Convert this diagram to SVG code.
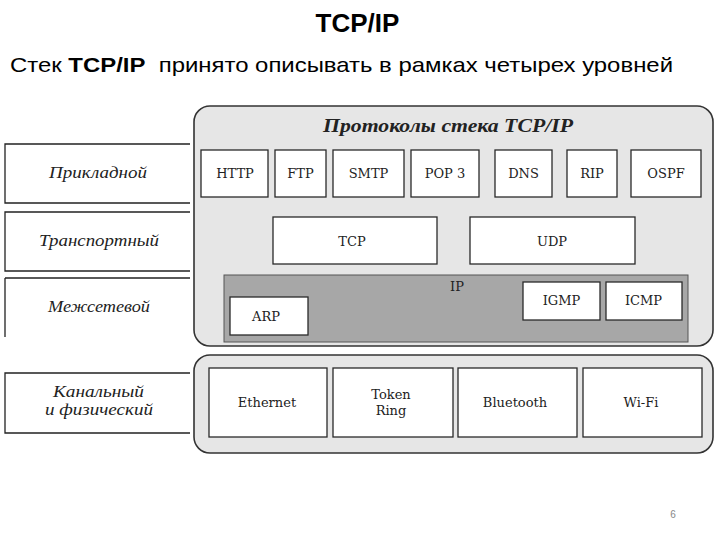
<svg xmlns="http://www.w3.org/2000/svg" width="720" height="540" viewBox="0 0 720 540">
<style>
.box{fill:#fff;stroke:#2a2a2a;stroke-width:1.3}
.cont{fill:#e6e6e6;stroke:#333;stroke-width:1.6}
.lbl{font-family:"DejaVu Serif",serif;font-size:13px;fill:#222;text-anchor:middle}
.lay{font-family:"Liberation Serif",serif;font-style:italic;font-size:17px;fill:#222}
.ln{stroke:#222;stroke-width:1.3;fill:none}
</style>
<rect width="720" height="540" fill="#fff"/>
<text x="357.5" y="32" font-family="Liberation Sans,sans-serif" font-weight="bold" font-size="26" text-anchor="middle" fill="#000">TCP/IP</text>
<text x="10" y="72" xml:space="preserve" font-family="Liberation Sans,sans-serif" font-size="21" fill="#000" textLength="663" lengthAdjust="spacingAndGlyphs">Стек <tspan font-weight="bold">TCP/IP</tspan>  принято описывать в рамках четырех уровней</text>

<g id="layers">
<g id="layer-app"><path class="ln" d="M190,144 H5 V203 H190"/><text class="lay" x="49" y="178" textLength="98" lengthAdjust="spacingAndGlyphs">Прикладной</text></g>
<g id="layer-transport"><path class="ln" d="M190,212 H5 V271 H190"/><text class="lay" x="39" y="246" textLength="120" lengthAdjust="spacingAndGlyphs">Транспортный</text></g>
<g id="layer-internet"><path class="ln" d="M190,278 H5 M5,278 V337"/><text class="lay" x="48" y="312" textLength="102" lengthAdjust="spacingAndGlyphs">Межсетевой</text></g>
<g id="layer-link"><path class="ln" d="M190,373 H5 V433 H190"/><text class="lay" x="53" y="397" font-size="14" textLength="91" lengthAdjust="spacingAndGlyphs">Канальный</text><text class="lay" x="45" y="415" font-size="14" textLength="108" lengthAdjust="spacingAndGlyphs">и физический</text></g>
</g>

<g id="stack">
<rect class="cont" x="194" y="106" width="519" height="240" rx="16"/>
<text x="323" y="132" font-family="Liberation Serif,serif" font-style="italic" font-weight="bold" font-size="18" fill="#222" textLength="250" lengthAdjust="spacingAndGlyphs">Протоколы стека TCP/IP</text>
</g>
<g id="link-container"><rect class="cont" x="194" y="355" width="519" height="98" rx="16"/></g>

<g id="http"><rect class="box" x="201" y="150" width="67" height="47"/><text class="lbl" x="235" y="178">HTTP</text></g>
<g id="ftp"><rect class="box" x="275" y="150" width="51" height="47"/><text class="lbl" x="300.5" y="178">FTP</text></g>
<g id="smtp"><rect class="box" x="333" y="150" width="71" height="47"/><text class="lbl" x="368.5" y="178">SMTP</text></g>
<g id="pop3"><rect class="box" x="411" y="150" width="68" height="47"/><text class="lbl" x="445" y="178">POP 3</text></g>
<g id="dns"><rect class="box" x="495" y="150" width="57" height="47"/><text class="lbl" x="523.5" y="178">DNS</text></g>
<g id="rip"><rect class="box" x="567" y="150" width="50" height="47"/><text class="lbl" x="592" y="178">RIP</text></g>
<g id="ospf"><rect class="box" x="631" y="150" width="70" height="47"/><text class="lbl" x="666" y="178">OSPF</text></g>

<g id="tcp"><rect class="box" x="273" y="217" width="164" height="47"/><text class="lbl" x="352" y="246">TCP</text></g>
<g id="udp"><rect class="box" x="470" y="217" width="165" height="47"/><text class="lbl" x="552" y="246">UDP</text></g>

<g id="ip"><rect x="224" y="275" width="464" height="67" fill="#a7a7a7" stroke="#555" stroke-width="1"/><text class="lbl" x="457" y="291" font-size="15">IP</text></g>
<g id="arp"><rect class="box" x="230" y="297" width="78" height="38"/><text class="lbl" x="266" y="321" font-size="15.5">ARP</text></g>
<g id="igmp"><rect class="box" x="523" y="282" width="77" height="38"/><text class="lbl" x="561.5" y="305">IGMP</text></g>
<g id="icmp"><rect class="box" x="606" y="282" width="76" height="38"/><text class="lbl" x="643.5" y="305">ICMP</text></g>

<g id="ethernet"><rect class="box" x="209" y="368" width="118" height="69"/><text class="lbl" x="267" y="407">Ethernet</text></g>
<g id="tokenring"><rect class="box" x="333" y="368" width="120" height="69"/><text class="lbl" x="391" y="399">Token</text><text class="lbl" x="391" y="415">Ring</text></g>
<g id="bluetooth"><rect class="box" x="458" y="368" width="119" height="69"/><text class="lbl" x="515" y="407">Bluetooth</text></g>
<g id="wifi"><rect class="box" x="583" y="368" width="119" height="69"/><text class="lbl" x="641" y="407">Wi-Fi</text></g>

<g id="connectors"></g>
<text x="673" y="518" font-family="Liberation Sans,sans-serif" font-size="10" fill="#888" text-anchor="middle">6</text>
</svg>
